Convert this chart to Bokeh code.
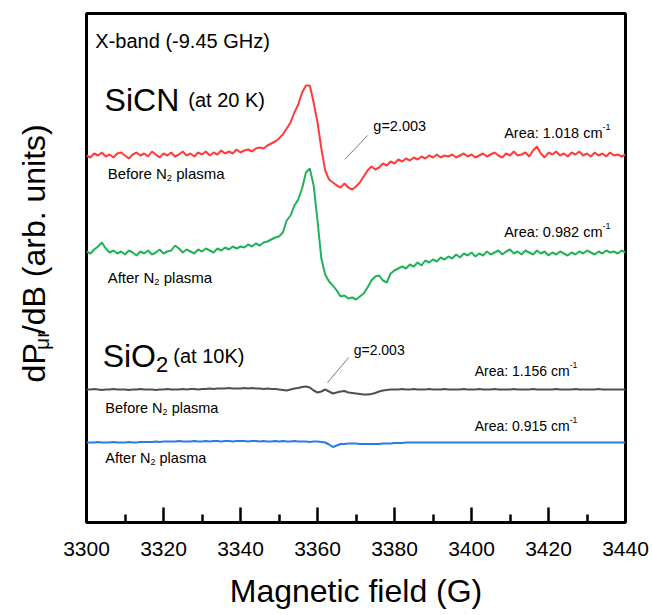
import math
from bokeh.plotting import figure
from bokeh.models import Range1d, Label, FixedTicker
from bokeh.layouts import row
from bokeh.core.properties import value
from bokeh.embed import file_html
from bokeh.resources import INLINE

# ---------------- data (arbitrary units) ----------------
field = list(range(3300, 3441))  # Magnetic field (G), 1 G steps

sicn_before = [
    367, 365, 369, 367, 370, 366, 368, 365, 369, 370,
    367, 364, 368, 370, 367, 369, 366, 371, 368, 365,
    369, 367, 370, 366, 368, 371, 367, 369, 366, 370,
    368, 371, 367, 370, 368, 372, 369, 371, 369, 373,
    370, 372, 373, 371, 374, 375, 374, 377, 379, 381,
    384, 388, 394, 400, 410, 418, 430, 437, 437, 420,
    400, 374, 352, 343, 340, 337, 335, 339, 335, 333,
    336, 340, 346, 352, 356, 353, 355, 359, 357, 361,
    359, 363, 361, 364, 362, 365, 363, 366, 364, 367,
    365, 368, 365, 367, 366, 368, 365, 367, 369, 366,
    368, 365, 367, 369, 366, 368, 370, 367, 365, 369,
    367, 371, 367, 368, 370, 366, 372, 376, 369, 365,
    370, 368, 371, 367, 369, 366, 370, 368, 371, 367,
    369, 366, 370, 367, 369, 366, 370, 367, 368, 366,
    368,
]

sicn_after = [
    271, 269, 273, 276, 280, 274, 270, 272, 269, 271,
    268, 272, 270, 267, 271, 269, 272, 268, 270, 273,
    269, 271, 272, 277, 274, 270, 273, 271, 269, 273,
    271, 274, 272, 270, 274, 272, 275, 273, 276, 274,
    276, 275, 278, 276, 279, 277, 280, 281, 283, 285,
    286, 290, 302, 307, 317, 323, 334, 350, 354, 337,
    302, 264, 248, 241, 237, 232, 226, 227, 224, 225,
    223, 226, 229, 235, 242, 246, 247, 242, 240, 249,
    252, 254, 256, 254, 258, 256, 260, 257, 262, 260,
    263, 261, 265, 263, 266, 264, 268, 265, 269, 267,
    270, 266, 269, 267, 271, 268, 270, 272, 268, 271,
    273, 269, 271, 268, 272, 270, 268, 272, 269, 271,
    267, 270, 268, 271, 269, 267, 270, 268, 271, 269,
    272, 270, 268, 271, 269, 272, 270, 271, 269, 272,
    270,
]

sio2_before = [
    133, 133, 133.5, 133, 132.5, 133, 133, 133.5, 133, 133,
    133, 132.5, 133, 133, 133.5, 133, 133, 133, 132.5, 133,
    133, 133.5, 133, 133, 133, 133.5, 133, 133.5, 133.5, 133,
    133.5, 133.5, 134, 133.5, 134, 134, 134, 134.5, 134, 134,
    134, 134.5, 134, 134.5, 134, 134, 133.5, 134, 133.5, 133.5,
    133, 132.5, 132, 133, 134, 134.5, 135.5, 136, 135, 132,
    130, 131, 133, 131, 129, 130, 131, 131.5, 130, 129.5,
    129, 128.5, 128, 128, 128.5, 129.5, 131, 132, 132.5, 133,
    133, 133, 133.5, 133, 133, 133.5, 133, 133, 133, 133.5,
    133, 133, 133, 133.5, 133, 133, 133, 133, 133.5, 133,
    133, 133, 133.5, 133, 133, 133, 133.5, 133, 133, 133,
    133, 133.5, 133, 133, 133, 133, 133.5, 133, 133, 133,
    133, 133, 133.5, 133, 133, 133, 133, 133.5, 133, 133,
    133, 133, 133, 133.5, 133, 133, 133, 133, 133, 133,
    133,
]

sio2_after = [
    80, 80, 80, 80.5, 80, 80, 80, 80.5, 80, 80,
    80, 80.5, 80, 80, 80.5, 80.5, 80.5, 80.5, 81, 80.5,
    81, 81, 81, 81, 81.5, 81, 81, 81, 81.5, 81,
    81, 81.5, 81, 81.5, 81.5, 81, 81.5, 81.5, 81, 81.5,
    81.5, 81.5, 81, 81.5, 81.5, 81, 81.5, 81, 81, 81.5,
    81, 81.5, 81, 81, 81.5, 81, 81, 81, 80.5, 81,
    81, 80.5, 80, 78, 75.5, 77, 78.5, 78.5, 79, 79,
    79, 78.5, 78.5, 78.5, 78.5, 78.5, 78.5, 79, 79, 79,
    79.5, 79.5, 79.5, 80, 80, 80, 80, 80, 80, 80,
    80, 80, 80, 80, 80, 80, 80, 80, 80, 80,
    80, 80, 80, 80, 80, 80, 80, 80, 80, 80,
    80, 80, 80, 80, 80, 80, 80, 80, 80, 80,
    80, 80, 80, 80, 80, 80, 80, 80, 80, 80,
    80, 80, 80, 80, 80, 80, 80, 80, 80, 80,
    80,
]

x_ticks = [3300, 3320, 3340, 3360, 3380, 3400, 3420, 3440]
x_minor = [3310, 3330, 3350, 3370, 3390, 3410, 3430]

# g-marker pointer lines (field, signal)
ptr_x0 = [3367.3, 3362.6]
ptr_y0 = [364, 140]
ptr_x1 = [3373.0, 3368.1]
ptr_y1 = [387, 165]

FONT = "Liberation Sans"
RED, GREEN, GRAY, BLUE = "#ff3b3b", "#22b05a", "#505050", "#2a7be4"

# ---------------- layout sizes ----------------
H = 614
LW = 56                      # width of the strip holding the y title
ML, MR, MT, MB = 30, 26, 13, 92
W = ML + 539 + MR            # main figure width

p = figure(width=W, height=H, output_backend="svg", toolbar_location=None,
           x_range=Range1d(3300, 3440), y_range=Range1d(0, 509),
           min_border_left=ML, min_border_right=MR, min_border_top=MT,
           min_border_bottom=MB, background_fill_color="white",
           border_fill_color="white")
p.grid.visible = False
p.yaxis.visible = False
p.outline_line_color = "black"
p.outline_line_width = 3
p.outline_line_alpha = 1

ax = p.xaxis[0]
ax.ticker = FixedTicker(ticks=x_ticks, minor_ticks=x_minor)
ax.major_tick_in = 15
ax.major_tick_out = 0
ax.minor_tick_in = 8
ax.minor_tick_out = 0
ax.axis_line_width = 3
ax.major_tick_line_width = 2.5
ax.minor_tick_line_width = 2.5
ax.major_label_text_font = FONT
ax.major_label_text_font_size = "21px"
ax.major_label_text_color = "black"
ax.major_label_standoff = 19
ax.axis_label = "Magnetic field (G)"
ax.axis_label_text_font = FONT
ax.axis_label_text_font_size = "32px"
ax.axis_label_text_font_style = "normal"
ax.axis_label_text_color = "black"
ax.axis_label_standoff = 14

PX_PER_G = 539 / 140.0
PX_PER_U = 1.0

p.line(field, sicn_before, line_color=RED, line_width=2)
p.line(field, sicn_after, line_color=GREEN, line_width=2)
p.line(field, sio2_before, line_color=GRAY, line_width=2)
p.line(field, sio2_after, line_color=BLUE, line_width=2)
p.segment(x0=ptr_x0, y0=ptr_y0, x1=ptr_x1, y1=ptr_y1, line_color="#777777", line_width=1)

# ---------------- text helpers ----------------
CW = {' ': .278, '(': .333, ')': .333, '-': .333, '.': .278, ':': .278, '=': .584, '/': .278,
      'A': .667, 'B': .667, 'C': .722, 'G': .778, 'H': .722, 'K': .667, 'M': .833, 'N': .722,
      'O': .778, 'P': .667, 'S': .667, 'X': .667,
      'a': .556, 'b': .556, 'c': .5, 'd': .556, 'e': .556, 'f': .278, 'g': .556, 'i': .222,
      'l': .222, 'm': .833, 'n': .556, 'o': .556, 'p': .556, 'r': .333, 's': .5, 't': .278,
      'u': .556, 'z': .5, 'μ': .576}


def tw(s, size):
    return sum(CW.get(c, .556) for c in s) * size


def rich(parts, x, y, align="left"):
    # parts: (text, font px, baseline shift px, gap px before)
    total = sum(tw(t, s) + g for t, s, d, g in parts) / PX_PER_G
    x0 = x - total if align == "right" else x
    for t, s, d, g in parts:
        x0 += g / PX_PER_G
        p.add_layout(Label(x=x0, y=y + d / PX_PER_U, text=t, text_font=FONT,
                           text_font_size=f"{s}px", text_align="left",
                           text_baseline="alphabetic", text_color="black"))
        x0 += tw(t, s) / PX_PER_G


def sub_label(word, x, y, size):
    rich([(word + " N", size, 0, 0), ("2", 0.62 * size, -4, 0),
          ("plasma", size, 0, 0.28 * size)], x, y)


def area_label(txt, x, y, size):
    rich([("Area: " + txt + " cm", size, 0, 0), ("-1", 0.62 * size, 6, 0)], x, y, "right")


rich([("X-band (-9.45 GHz)", 20, 0, 0)], 3302.3, 482)
rich([("SiCN", 32, 0, 0), ("(at 20 K)", 20, 0, 9)], 3304.7, 423)
rich([("g=2.003", 14.5, 0, 0)], 3374.5, 397)
area_label("1.018", 3436.1, 390, 14.5)
sub_label("Before", 3305.5, 349, 15)
area_label("0.982", 3436.1, 291, 14.5)
sub_label("After", 3305.5, 245, 15)

rich([("SiO", 32, 0, 0), ("2", 22, -9, 0), ("(at 10K)", 20, 0, 5)], 3304.2, 167)
rich([("g=2.003", 14, 0, 0)], 3369.4, 173)
area_label("1.156", 3427.5, 152, 14)
sub_label("Before", 3304.9, 115, 14.5)
area_label("0.915", 3427.5, 97, 14)
sub_label("After", 3304.9, 65, 14.5)

# ---------------- y title strip (pixel coordinates) ----------------
q = figure(width=LW, height=H, output_backend="svg", toolbar_location=None,
           x_range=Range1d(0, LW), y_range=Range1d(0, H),
           min_border_left=0, min_border_right=0, min_border_top=0, min_border_bottom=0,
           x_axis_type=None, y_axis_type=None, outline_line_color=None,
           background_fill_color="white", border_fill_color="white")
q.grid.visible = False
yx, yy = 33.0, float(H - 445)
for t, s, dx in [("dP", 32, 0), ("μr", 21, 8), ("/dB (arb. units)", 32, 0)]:
    q.text(x=[yx + dx], y=[yy], text=[t], angle=math.pi / 2,
           text_font=value(FONT), text_font_size=value(f"{s}px"),
           text_align="left", text_baseline="alphabetic", text_color="black")
    yy += tw(t, s)

layout = row(q, p, spacing=0)
open("out.html", "w").write(file_html(layout, INLINE))
